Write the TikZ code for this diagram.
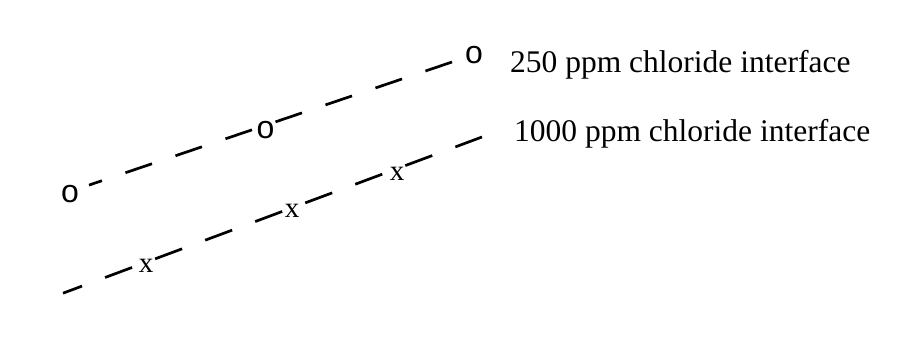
\documentclass[tikz,border=0pt]{standalone}
\usepackage{fontspec}
\setmainfont{Liberation Serif}
\newfontfamily\markersans{Liberation Sans}
\begin{document}
\begin{tikzpicture}[x=1pt,y=-1pt,
  omark/.style={inner sep=0pt,font=\markersans\fontsize{32}{36}\selectfont},
  xmark/.style={inner sep=0pt,font=\fontsize{29}{33}\selectfont},
  label/.style={inner sep=0pt,anchor=base west,font=\fontsize{31.5}{36}\selectfont},
  dashline/.style={line width=2.7pt,line cap=butt}]
\useasboundingbox (0,0) rectangle (922,347);
% 250 ppm interface
\coordinate (t1) at (89,185.1);
\coordinate (t2) at (455,61);
\draw[dashline,dash pattern=on 28pt off 24.8pt,dash phase=14.3pt] (t1) -- (t2);
\node[omark] (o1) at (70,194) {o};
\node[omark] (o2) at (265.5,130.5) {o};
\node[omark] (o3) at (474,55.5) {o};
% 1000 ppm interface
\coordinate (b1) at (63,293.2);
\coordinate (b2) at (482,137);
\draw[dashline,dash pattern=on 28.8pt off 24.6pt,dash phase=8.5pt] (b1) -- (b2);
\node[xmark] (x1) at (146,266) {x};
\node[xmark] (x2) at (292,211) {x};
\node[xmark] (x3) at (397,174) {x};
% labels
\node[label] (l1) at (510,72.3) {250 ppm chloride interface};
\node[label] (l2) at (514,141.7) {1000 ppm chloride interface};
\end{tikzpicture}
\end{document}
